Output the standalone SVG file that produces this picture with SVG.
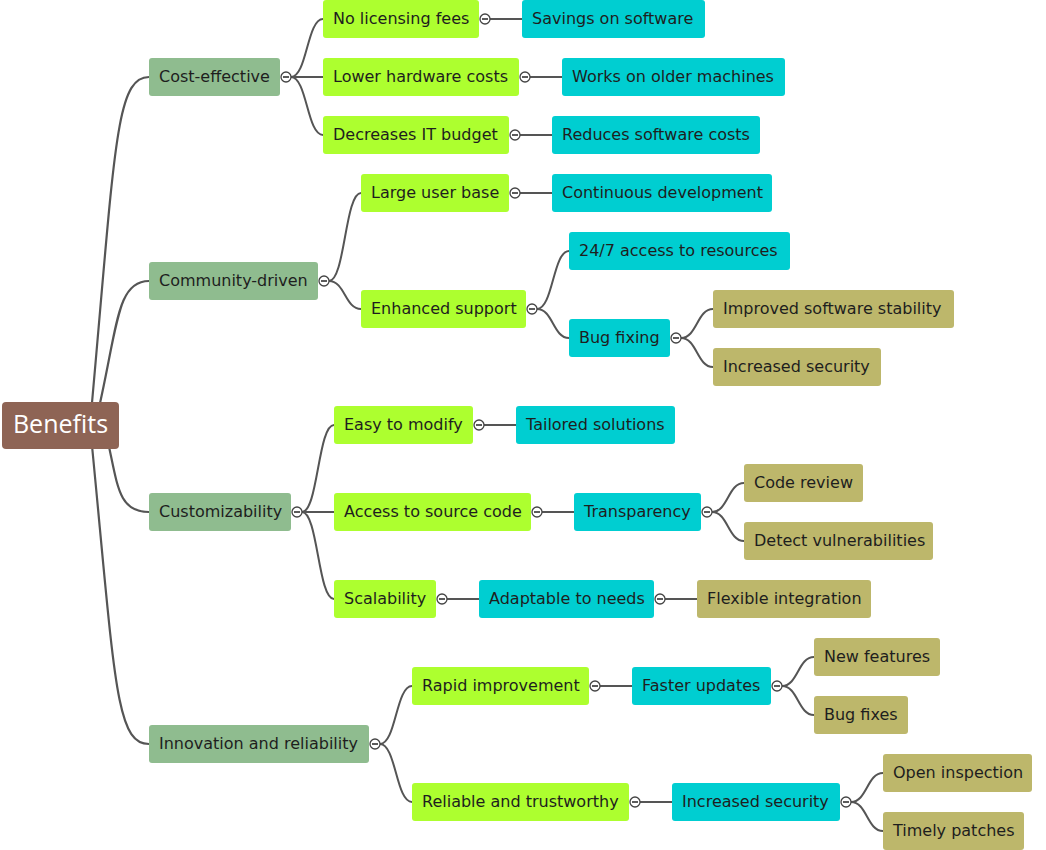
<svg xmlns="http://www.w3.org/2000/svg" xmlns:xlink="http://www.w3.org/1999/xlink" width="1046" height="850" viewBox="0 0 1046 850">
<style>
.c{fill:none;stroke:#555;stroke-width:2}
.r{stroke:#555;fill:none;stroke-width:2.2}
.t{font-family:"DejaVu Sans",Verdana,sans-serif;font-size:16px;fill:#1e1e1e}
.l1{fill:#8fbc8f}
.l2{fill:#adff2f}
.l3{fill:#00ced1}
.l4{fill:#bdb76b}
</style>
<defs>
<g id="tog"><circle r="5" fill="#fff" stroke="#444" stroke-width="1.3"/><line x1="-3" y1="0" x2="3" y2="0" stroke="#333" stroke-width="1.6"/></g>
</defs>
<rect width="1046" height="850" fill="#fff"/>
<g id="connectors">
<path class="r" d="M90 425C115 150 115 77 149 77"/>
<path class="r" d="M95 425C118 330 115 281 149 281"/>
<path class="r" d="M104 425C118 480 115 512 149 512"/>
<path class="r" d="M90 425C115 680 115 744 149 744"/>
<path class="c" d="M291 77C307 77 307 19 323 19"/>
<path class="c" d="M291 77H323"/>
<path class="c" d="M291 77C307 77 307 135 323 135"/>
<path class="c" d="M490 19H522"/>
<path class="c" d="M530 77H562"/>
<path class="c" d="M520 135H552"/>
<path class="c" d="M329 281C345 281 345 193 361 193"/>
<path class="c" d="M329 281C345 281 345 309 361 309"/>
<path class="c" d="M520 193H552"/>
<path class="c" d="M537 309C553 309 553 251 569 251"/>
<path class="c" d="M537 309C553 309 553 338 569 338"/>
<path class="c" d="M681 338C697 338 697 309 713 309"/>
<path class="c" d="M681 338C697 338 697 367 713 367"/>
<path class="c" d="M302 512C318 512 318 425 334 425"/>
<path class="c" d="M302 512H334"/>
<path class="c" d="M302 512C318 512 318 599 334 599"/>
<path class="c" d="M484 425H516"/>
<path class="c" d="M542 512H574"/>
<path class="c" d="M712 512C728 512 728 483 744 483"/>
<path class="c" d="M712 512C728 512 728 541 744 541"/>
<path class="c" d="M447 599H479"/>
<path class="c" d="M665 599H697"/>
<path class="c" d="M380 744C396 744 396 686 412 686"/>
<path class="c" d="M380 744C396 744 396 802 412 802"/>
<path class="c" d="M600 686H632"/>
<path class="c" d="M782 686C798 686 798 657 814 657"/>
<path class="c" d="M782 686C798 686 798 715 814 715"/>
<path class="c" d="M640 802H672"/>
<path class="c" d="M851 802C867 802 867 773 883 773"/>
<path class="c" d="M851 802C867 802 867 831 883 831"/>
</g>
<g id="root"><rect x="2" y="402" width="117" height="47" rx="4" fill="#8e6455"/><text x="60.5" y="433" text-anchor="middle" font-family="'Open Sans',Lato,sans-serif" font-size="25" fill="#fff">Benefits</text></g>
<g id="n-cost"><rect class="l1" x="149" y="58" width="131" height="38" rx="3"/><text class="t" x="159" y="81.5">Cost-effective</text><use xlink:href="#tog" x="286" y="77"/></g>
<g id="n-comm"><rect class="l1" x="149" y="262" width="169" height="38" rx="3"/><text class="t" x="159" y="285.5">Community-driven</text><use xlink:href="#tog" x="324" y="281"/></g>
<g id="n-cust"><rect class="l1" x="149" y="493" width="142" height="38" rx="3"/><text class="t" x="159" y="516.5">Customizability</text><use xlink:href="#tog" x="297" y="512"/></g>
<g id="n-inno"><rect class="l1" x="149" y="725" width="220" height="38" rx="3"/><text class="t" x="159" y="748.5">Innovation and reliability</text><use xlink:href="#tog" x="375" y="744"/></g>
<g id="n-nolic"><rect class="l2" x="323" y="0" width="156" height="38" rx="3"/><text class="t" x="333" y="23.5">No licensing fees</text><use xlink:href="#tog" x="485" y="19"/></g>
<g id="n-lowhw"><rect class="l2" x="323" y="58" width="196" height="38" rx="3"/><text class="t" x="333" y="81.5">Lower hardware costs</text><use xlink:href="#tog" x="525" y="77"/></g>
<g id="n-decit"><rect class="l2" x="323" y="116" width="186" height="38" rx="3"/><text class="t" x="333" y="139.5">Decreases IT budget</text><use xlink:href="#tog" x="515" y="135"/></g>
<g id="n-large"><rect class="l2" x="361" y="174" width="148" height="38" rx="3"/><text class="t" x="371" y="197.5">Large user base</text><use xlink:href="#tog" x="515" y="193"/></g>
<g id="n-enh"><rect class="l2" x="361" y="290" width="165" height="38" rx="3"/><text class="t" x="371" y="313.5">Enhanced support</text><use xlink:href="#tog" x="532" y="309"/></g>
<g id="n-easy"><rect class="l2" x="334" y="406" width="139" height="38" rx="3"/><text class="t" x="344" y="429.5">Easy to modify</text><use xlink:href="#tog" x="479" y="425"/></g>
<g id="n-access"><rect class="l2" x="334" y="493" width="197" height="38" rx="3"/><text class="t" x="344" y="516.5">Access to source code</text><use xlink:href="#tog" x="537" y="512"/></g>
<g id="n-scal"><rect class="l2" x="334" y="580" width="102" height="38" rx="3"/><text class="t" x="344" y="603.5">Scalability</text><use xlink:href="#tog" x="442" y="599"/></g>
<g id="n-rapid"><rect class="l2" x="412" y="667" width="177" height="38" rx="3"/><text class="t" x="422" y="690.5">Rapid improvement</text><use xlink:href="#tog" x="595" y="686"/></g>
<g id="n-reli"><rect class="l2" x="412" y="783" width="217" height="38" rx="3"/><text class="t" x="422" y="806.5">Reliable and trustworthy</text><use xlink:href="#tog" x="635" y="802"/></g>
<g id="n-savings"><rect class="l3" x="522" y="0" width="183" height="38" rx="3"/><text class="t" x="532" y="23.5">Savings on software</text></g>
<g id="n-works"><rect class="l3" x="562" y="58" width="223" height="38" rx="3"/><text class="t" x="572" y="81.5">Works on older machines</text></g>
<g id="n-reduces"><rect class="l3" x="552" y="116" width="208" height="38" rx="3"/><text class="t" x="562" y="139.5">Reduces software costs</text></g>
<g id="n-contin"><rect class="l3" x="552" y="174" width="220" height="38" rx="3"/><text class="t" x="562" y="197.5">Continuous development</text></g>
<g id="n-247"><rect class="l3" x="569" y="232" width="221" height="38" rx="3"/><text class="t" x="579" y="255.5">24/7 access to resources</text></g>
<g id="n-bugfix"><rect class="l3" x="569" y="319" width="101" height="38" rx="3"/><text class="t" x="579" y="342.5">Bug fixing</text><use xlink:href="#tog" x="676" y="338"/></g>
<g id="n-tailored"><rect class="l3" x="516" y="406" width="159" height="38" rx="3"/><text class="t" x="526" y="429.5">Tailored solutions</text></g>
<g id="n-transp"><rect class="l3" x="574" y="493" width="127" height="38" rx="3"/><text class="t" x="584" y="516.5">Transparency</text><use xlink:href="#tog" x="707" y="512"/></g>
<g id="n-adapt"><rect class="l3" x="479" y="580" width="175" height="38" rx="3"/><text class="t" x="489" y="603.5">Adaptable to needs</text><use xlink:href="#tog" x="660" y="599"/></g>
<g id="n-faster"><rect class="l3" x="632" y="667" width="139" height="38" rx="3"/><text class="t" x="642" y="690.5">Faster updates</text><use xlink:href="#tog" x="777" y="686"/></g>
<g id="n-incsec"><rect class="l3" x="672" y="783" width="168" height="38" rx="3"/><text class="t" x="682" y="806.5">Increased security</text><use xlink:href="#tog" x="846" y="802"/></g>
<g id="n-improved"><rect class="l4" x="713" y="290" width="241" height="38" rx="3"/><text class="t" x="723" y="313.5">Improved software stability</text></g>
<g id="n-incsec2"><rect class="l4" x="713" y="348" width="168" height="38" rx="3"/><text class="t" x="723" y="371.5">Increased security</text></g>
<g id="n-code"><rect class="l4" x="744" y="464" width="119" height="38" rx="3"/><text class="t" x="754" y="487.5">Code review</text></g>
<g id="n-detect"><rect class="l4" x="744" y="522" width="189" height="38" rx="3"/><text class="t" x="754" y="545.5">Detect vulnerabilities</text></g>
<g id="n-flex"><rect class="l4" x="697" y="580" width="174" height="38" rx="3"/><text class="t" x="707" y="603.5">Flexible integration</text></g>
<g id="n-newfeat"><rect class="l4" x="814" y="638" width="126" height="38" rx="3"/><text class="t" x="824" y="661.5">New features</text></g>
<g id="n-bugfixes"><rect class="l4" x="814" y="696" width="94" height="38" rx="3"/><text class="t" x="824" y="719.5">Bug fixes</text></g>
<g id="n-open"><rect class="l4" x="883" y="754" width="149" height="38" rx="3"/><text class="t" x="893" y="777.5">Open inspection</text></g>
<g id="n-timely"><rect class="l4" x="883" y="812" width="141" height="38" rx="3"/><text class="t" x="893" y="835.5">Timely patches</text></g>
</svg>
